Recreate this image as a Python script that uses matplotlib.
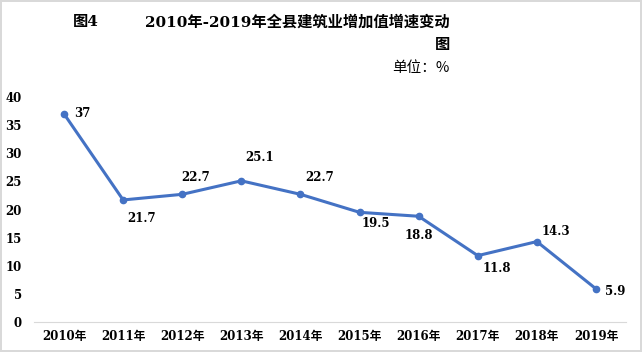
import matplotlib.pyplot as plt

plt.rcParams['font.family'] = ['DejaVu Serif', 'Noto Sans CJK SC']

years = ['2010年', '2011年', '2012年', '2013年', '2014年',
         '2015年', '2016年', '2017年', '2018年', '2019年']
growth = [37, 21.7, 22.7, 25.1, 22.7, 19.5, 18.8, 11.8, 14.3, 5.9]

# label offsets in points (dx, dy)
offsets = [(13, 0), (13, -13), (10, 12), (13, 17), (14, 12),
           (12, -8), (0, -14), (14, -9), (14, 7), (14, -2)]

fig = plt.figure(figsize=(6.42, 3.52), dpi=100)
fig.patch.set_edgecolor('#d9d9d9')
fig.patch.set_linewidth(1.5)
ax = fig.add_axes([0.0537, 0.0852, 0.9206, 0.6392])

x = list(range(len(years)))
ax.plot(x, growth, color='#4472C4', linewidth=2.2, marker='o', markersize=4.5)

for i, v in enumerate(growth):
    ax.annotate(f'{v:g}', (i, v), xytext=offsets[i], textcoords='offset points',
                ha='center', va='center', fontsize=8.5, fontweight='bold')

ax.set_xlim(-0.5, len(years) - 0.5)
ax.set_ylim(0, 40)
ax.set_yticks(range(0, 41, 5))
ax.set_xticks(x)
ax.set_xticklabels(years)
for s in ['top', 'right', 'left']:
    ax.spines[s].set_visible(False)
ax.spines['bottom'].set_color('#d9d9d9')
ax.tick_params(axis='both', length=0, labelsize=8.5)
ax.tick_params(axis='y', pad=9)
ax.tick_params(axis='x', pad=6)
for lab in ax.get_xticklabels() + ax.get_yticklabels():
    lab.set_fontweight('bold')

# title pieces
fig.text(73 / 642, 1 - 22 / 352, '图4', ha='left', va='center',
         fontsize=11, fontweight='bold')
fig.text(450 / 642, 1 - 22 / 352, '2010年-2019年全县建筑业增加值增速变动',
         ha='right', va='center', fontsize=11, fontweight='bold')
fig.text(450 / 642, 1 - 45 / 352, '图', ha='right', va='center',
         fontsize=11, fontweight='bold')
fig.text(450 / 642, 1 - 68 / 352, '单位：%', ha='right', va='center', fontsize=10.5,
         family=['Noto Sans CJK SC'])

fig.savefig('out.png', dpi=100)
